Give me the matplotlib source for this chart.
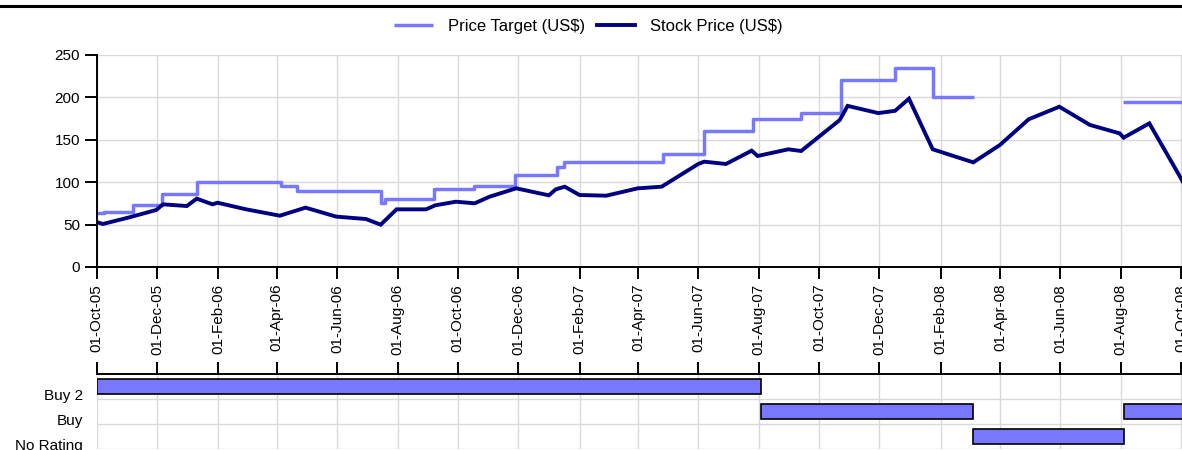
import numpy as np
import matplotlib
matplotlib.use("Agg")
import matplotlib.pyplot as plt
import matplotlib.dates as mdates
from matplotlib import font_manager
from matplotlib.lines import Line2D
from matplotlib.transforms import ScaledTranslation

# ===== Data =====
target_dates = ["2005-10-01", "2005-10-08", "2005-11-07", "2005-12-06", "2006-01-10",
                "2006-04-05", "2006-04-21", "2006-07-15", "2006-07-19", "2006-09-07",
                "2006-10-17", "2006-11-28", "2007-01-09", "2007-01-16", "2007-04-26",
                "2007-06-07", "2007-07-26", "2007-09-13", "2007-10-23", "2007-12-17",
                "2008-01-24", "2008-03-06", "2008-08-03", "2008-10-31"]
target_values = [63.5, 65, 73.5, 86, 100,
                 95, 90, 76, 80, 92,
                 95, 108, 118, 123.5, 133,
                 160, 175, 182, 220, 235,
                 200, np.nan, 195, 195]

price_dates = ["2005-10-01", "2005-10-07", "2005-11-03", "2005-11-30", "2005-12-07",
               "2005-12-31", "2006-01-10", "2006-01-26", "2006-01-31", "2006-03-01",
               "2006-04-04", "2006-04-30", "2006-05-31", "2006-06-30", "2006-07-15",
               "2006-07-31", "2006-08-30", "2006-09-08", "2006-09-29", "2006-10-18",
               "2006-11-02", "2006-11-29", "2007-01-01", "2007-01-08", "2007-01-17",
               "2007-02-01", "2007-02-28", "2007-04-01", "2007-04-25", "2007-06-01",
               "2007-06-07", "2007-06-29", "2007-07-25", "2007-07-31", "2007-08-31",
               "2007-09-13", "2007-10-22", "2007-10-30", "2007-11-30", "2007-12-17",
               "2007-12-31", "2008-01-24", "2008-03-05", "2008-04-01", "2008-04-30",
               "2008-05-31", "2008-07-01", "2008-07-31", "2008-08-04", "2008-08-30",
               "2008-09-30", "2008-10-15"]
price_values = [53, 50.7, 58.6, 67.2, 73.9,
                71.9, 80.6, 73.9, 75.8, 68,
                60.5, 70, 59.4, 56.6, 49.9,
                68, 68, 72.7, 77, 75.1,
                82.9, 92.8, 84.5, 91.6, 94.7,
                84.9, 84.1, 92.8, 94.7, 121.5,
                124.2, 121.5, 137.2, 130.9, 138.8,
                136.8, 173.3, 190, 181.5, 184.2,
                198.5, 138.8, 123.4, 143.9, 174.2,
                189, 167.5, 157.6, 152.5, 169.4,
                106.5, 75]

ratings = ["Buy 2", "Buy", "No Rating"]
rating_rows = ["Buy 2", "Buy", "No Rating", "Buy"]
rating_start = ["2005-10-01", "2007-08-03", "2008-03-05", "2008-08-04"]
rating_end = ["2007-08-03", "2008-03-05", "2008-08-04", "2008-10-31"]

# ===== Fonts =====
names = {f.name for f in font_manager.fontManager.ttflist}
if "Liberation Sans Narrow" in names:
    FONT, FS, LFS = "Liberation Sans Narrow", 12.5, 13
else:
    FONT, FS, LFS = "Liberation Sans", 11, 12
plt.rcParams["font.family"] = [FONT, "DejaVu Sans"]

TARGET_COL = "#7878ff"
PRICE_COL = "#000080"
GRID_COL = "#d9d9d9"

W, H = 1182, 450
fig = plt.figure(figsize=(W / 100, H / 100), dpi=100)

x0 = mdates.date2num(np.datetime64("2005-10-01"))
xmax = mdates.date2num(np.datetime64("2008-10-04"))
px_per_day = 1084.2 / 1096
left = 96.8 / W
width = (xmax - x0) * px_per_day / W

# ===== Main chart =====
ax = fig.add_axes([left, (H - 267) / H, width, 212 / H])
t_d = np.array(target_dates, dtype="datetime64[D]")
p_d = np.array(price_dates, dtype="datetime64[D]")
ax.step(t_d, target_values, where="post", color=TARGET_COL, lw=2.5,
        label="Price Target (US$)", solid_capstyle="butt")
ax.plot(p_d, price_values, color=PRICE_COL, lw=2.8, label="Stock Price (US$)",
        solid_joinstyle="miter")

ax.set_xlim(x0, xmax)
ax.set_ylim(0, 250)
ax.set_yticks(range(0, 251, 50))
ax.xaxis.set_major_locator(mdates.MonthLocator(bymonth=[2, 4, 6, 8, 10, 12], bymonthday=1))
ax.xaxis.set_major_formatter(mdates.DateFormatter("%d-%b-%y"))
ax.grid(True, color=GRID_COL, lw=1.0)
ax.set_axisbelow(True)
for s in ["top", "right"]:
    ax.spines[s].set_visible(False)
for s in ["left", "bottom"]:
    ax.spines[s].set_linewidth(1.4)
ax.tick_params(axis="both", direction="out", length=8.5, width=1.4, labelsize=FS, pad=3.6)
ax.tick_params(axis="x", labelrotation=90)

# ===== Legend =====
fig.legend(loc="center", bbox_to_anchor=(0.498, 1 - 26 / H), ncol=2, frameon=False,
           fontsize=LFS, handlelength=2.3, handletextpad=0.9, columnspacing=0.75)

# top rule
fig.add_artist(Line2D([0, 1], [1 - 6 / H, 1 - 6 / H], transform=fig.transFigure,
                      color="black", lw=2.2))

# ===== Rating panel =====
ax2 = fig.add_axes([left, 1 / H, width, 75 / H], sharex=ax)
for row, s, e in zip(rating_rows, rating_start, rating_end):
    a = mdates.date2num(np.datetime64(s))
    b = mdates.date2num(np.datetime64(e))
    ax2.barh(ratings.index(row), b - a, left=a, height=0.6, color=TARGET_COL,
             edgecolor="black", lw=1.2)
ax2.set_ylim(2.5, -0.5)
ax2.set_yticks(range(len(ratings)))
ax2.set_yticklabels(ratings)
ax2.set_yticks([0.5, 1.5, 2.5], minor=True)
ax2.grid(True, axis="x", which="major", color=GRID_COL, lw=1.0)
ax2.grid(True, axis="y", which="minor", color=GRID_COL, lw=1.0)
ax2.set_axisbelow(True)
for s in ["left", "right", "bottom"]:
    ax2.spines[s].set_visible(False)
ax2.spines["top"].set_linewidth(1.4)
ax2.xaxis.tick_top()
ax2.tick_params(axis="x", which="both", direction="out", length=8.5, width=1.4,
                labeltop=False, labelbottom=False)
ax2.tick_params(axis="y", which="both", length=0, labelsize=FS, pad=10)
shift = ScaledTranslation(0, -6 / 72, fig.dpi_scale_trans)
for lbl in ax2.get_yticklabels():
    lbl.set_transform(lbl.get_transform() + shift)

fig.savefig("out.png", dpi=100)
